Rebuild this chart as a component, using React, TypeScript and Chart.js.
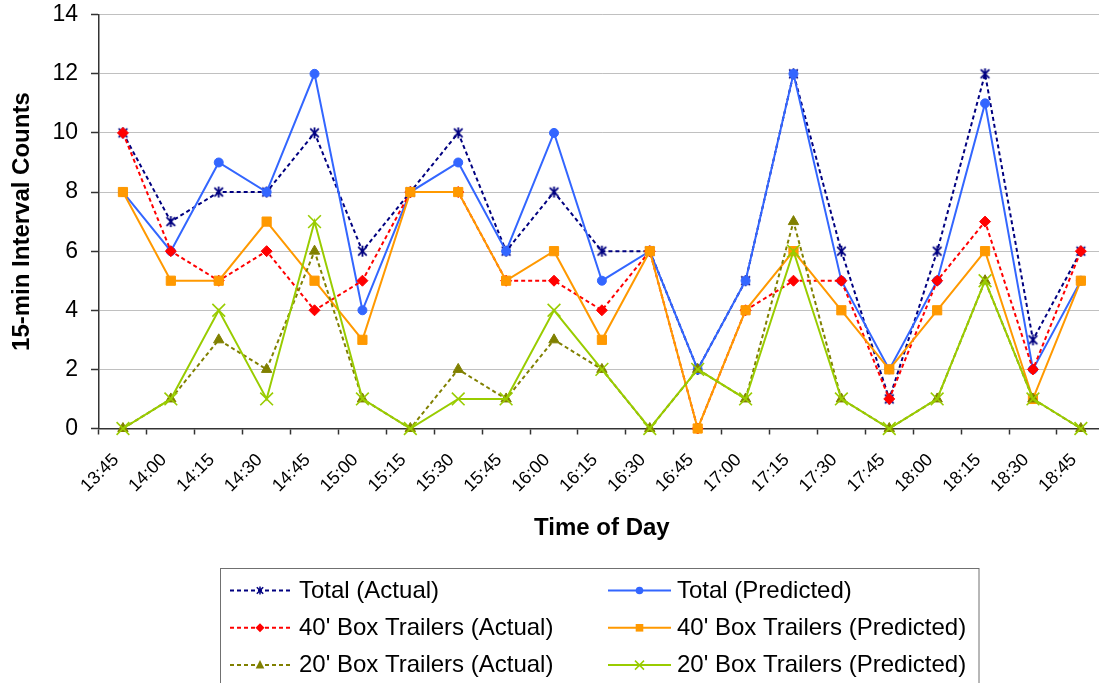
import React, { useEffect, useRef } from 'react';
import { Chart, registerables } from 'chart.js';

Chart.register(...registerables);

// ---- Data ----
const timeLabels = [
  '13:45', '14:00', '14:15', '14:30', '14:45', '15:00', '15:15', '15:30', '15:45', '16:00', '16:15',
  '16:30', '16:45', '17:00', '17:15', '17:30', '17:45', '18:00', '18:15', '18:30', '18:45',
];
const totalActual = [10, 7, 8, 8, 10, 6, 8, 10, 6, 8, 6, 6, 2, 5, 12, 6, 1, 6, 12, 3, 6];
const totalPredicted = [8, 6, 9, 8, 12, 4, 8, 9, 6, 10, 5, 6, 2, 5, 12, 5, 2, 5, 11, 2, 5];
const box40Actual = [10, 6, 5, 6, 4, 5, 8, 8, 5, 5, 4, 6, 0, 4, 5, 5, 1, 5, 7, 2, 6];
const box40Predicted = [8, 5, 5, 7, 5, 3, 8, 8, 5, 6, 3, 6, 0, 4, 6, 4, 2, 4, 6, 1, 5];
const box20Actual = [0, 1, 3, 2, 6, 1, 0, 2, 1, 3, 2, 0, 2, 1, 7, 1, 0, 1, 5, 1, 0];
const box20Predicted = [0, 1, 4, 1, 7, 1, 0, 1, 1, 4, 2, 0, 2, 1, 6, 1, 0, 1, 5, 1, 0];
const seriesLabels = [
  'Total (Actual)',
  'Total (Predicted)',
  "40' Box Trailers (Actual)",
  "40' Box Trailers (Predicted)",
  "20' Box Trailers (Actual)",
  "20' Box Trailers (Predicted)",
];
const yMin = 0;
const yMax = 14;
const yStep = 2;
const xTitle = 'Time of Day';
const yTitle = '15-min Interval Counts';

// ---- Styles ----
type Marker = 'asterisk' | 'circle' | 'diamond' | 'square' | 'triangle' | 'x';
const seriesStyles: { color: string; dash: number[]; marker: Marker; radius: number }[] = [
  { color: '#000080', dash: [4, 3], marker: 'asterisk', radius: 6 },
  { color: '#3366FF', dash: [], marker: 'circle', radius: 4.5 },
  { color: '#FF0000', dash: [4, 3], marker: 'diamond', radius: 5.5 },
  { color: '#FF9900', dash: [], marker: 'square', radius: 6.5 },
  { color: '#808000', dash: [4, 3], marker: 'triangle', radius: 6 },
  { color: '#99CC00', dash: [], marker: 'x', radius: 9 },
];

const FONT = '"Liberation Sans", Arial, Helvetica, sans-serif';

function makeAsterisk(color: string, size: number, lw: number): HTMLCanvasElement {
  const c = document.createElement('canvas');
  c.width = size;
  c.height = size;
  const g = c.getContext('2d')!;
  g.strokeStyle = color;
  g.lineWidth = lw;
  const m = size / 2;
  const r = size / 2 - 1;
  const d = r * 0.78;
  g.beginPath();
  g.moveTo(m - d, m - d);
  g.lineTo(m + d, m + d);
  g.moveTo(m + d, m - d);
  g.lineTo(m - d, m + d);
  g.moveTo(m, m - r);
  g.lineTo(m, m + r);
  g.stroke();
  return c;
}

function drawLegendMarker(ctx: CanvasRenderingContext2D, marker: Marker, x: number, y: number, color: string) {
  ctx.save();
  ctx.fillStyle = color;
  ctx.strokeStyle = color;
  ctx.setLineDash([]);
  ctx.lineWidth = 1.5;
  ctx.beginPath();
  switch (marker) {
    case 'asterisk': {
      const r = 4;
      const d = 3.2;
      ctx.moveTo(x - d, y - d);
      ctx.lineTo(x + d, y + d);
      ctx.moveTo(x + d, y - d);
      ctx.lineTo(x - d, y + d);
      ctx.moveTo(x, y - r);
      ctx.lineTo(x, y + r);
      ctx.stroke();
      break;
    }
    case 'circle':
      ctx.arc(x, y, 3.8, 0, Math.PI * 2);
      ctx.fill();
      break;
    case 'diamond':
      ctx.moveTo(x, y - 4.5);
      ctx.lineTo(x + 4.5, y);
      ctx.lineTo(x, y + 4.5);
      ctx.lineTo(x - 4.5, y);
      ctx.closePath();
      ctx.fill();
      break;
    case 'square':
      ctx.rect(x - 3.8, y - 3.8, 7.6, 7.6);
      ctx.fill();
      break;
    case 'triangle':
      ctx.moveTo(x, y - 5);
      ctx.lineTo(x + 4.3, y + 3.5);
      ctx.lineTo(x - 4.3, y + 3.5);
      ctx.closePath();
      ctx.fill();
      break;
    case 'x':
      ctx.moveTo(x - 4.5, y - 4.5);
      ctx.lineTo(x + 4.5, y + 4.5);
      ctx.moveTo(x + 4.5, y - 4.5);
      ctx.lineTo(x - 4.5, y + 4.5);
      ctx.stroke();
      break;
  }
  ctx.restore();
}

const legendPlugin = {
  id: 'boxLegend',
  afterDraw(chart: any) {
    const ctx: CanvasRenderingContext2D = chart.ctx;
    ctx.save();
    ctx.strokeStyle = '#707070';
    ctx.lineWidth = 1;
    ctx.strokeRect(220.5, 568.5, 758.5, 140);
    chart.data.datasets.forEach((ds: any, i: number) => {
      const st = seriesStyles[i];
      const col = i % 2;
      const row = Math.floor(i / 2);
      const ly = 590.5 + row * 37.3;
      const by = 598.3 + row * 37;
      const x0 = col ? 608 : 230;
      const x1 = col ? 671 : 290;
      const mx = col ? 639.5 : 260;
      const tx = col ? 677 : 299;
      ctx.save();
      ctx.strokeStyle = st.color;
      ctx.lineWidth = 2;
      ctx.setLineDash(st.dash);
      ctx.beginPath();
      ctx.moveTo(x0, ly);
      ctx.lineTo(x1, ly);
      ctx.stroke();
      ctx.restore();
      drawLegendMarker(ctx, st.marker, mx, ly, st.color);
      ctx.fillStyle = '#000';
      ctx.font = `24px ${FONT}`;
      ctx.textAlign = 'left';
      ctx.textBaseline = 'alphabetic';
      ctx.fillText(ds.label, tx, by);
    });
    ctx.restore();
  },
};

export default function App() {
  const canvasRef = useRef<HTMLCanvasElement | null>(null);

  useEffect(() => {
    if (!canvasRef.current) return;
    Chart.defaults.font.family = FONT;
    const seriesData = [totalActual, totalPredicted, box40Actual, box40Predicted, box20Actual, box20Predicted];
    const pointStyleFor = (m: Marker): any => {
      switch (m) {
        case 'asterisk':
          return makeAsterisk('#000080', 13, 1.8);
        case 'circle':
          return 'circle';
        case 'diamond':
          return 'rectRot';
        case 'square':
          return 'rect';
        case 'triangle':
          return 'triangle';
        case 'x':
          return 'crossRot';
      }
    };
    const datasets = seriesData.map((d, i) => {
      const st = seriesStyles[i];
      return {
        label: seriesLabels[i],
        data: d,
        borderColor: st.color,
        backgroundColor: st.color,
        borderWidth: 2,
        borderDash: st.dash,
        tension: 0,
        pointStyle: pointStyleFor(st.marker),
        pointRadius: st.radius,
        pointHoverRadius: st.radius,
        pointBackgroundColor: st.color,
        pointBorderColor: st.color,
        pointBorderWidth: st.marker === 'x' ? 1.6 : 1,
        clip: false as any,
        order: 6 - i,
      };
    });

    const chart = new Chart(canvasRef.current, {
      type: 'line',
      data: { labels: timeLabels, datasets },
      options: {
        responsive: false,
        animation: false,
        devicePixelRatio: 1,
        layout: { padding: { left: 0, top: 14.7, right: 20.2, bottom: 140.6 } },
        plugins: {
          legend: { display: false },
          tooltip: { enabled: false },
        },
        scales: {
          x: {
            type: 'category',
            offset: true,
            grid: {
              offset: true,
              drawOnChartArea: false,
              drawTicks: true,
              tickLength: 6,
              tickColor: '#333333',
              tickWidth: 1.5,
            },
            border: { color: '#333333', width: 1.5 },
            ticks: {
              autoSkip: false,
              maxRotation: 45,
              minRotation: 45,
              padding: 15,
              labelOffset: -7,
              color: '#000',
              font: { size: 18 },
            },
            title: {
              display: true,
              text: xTitle,
              color: '#000',
              font: { size: 24, weight: 'bold' },
              padding: { top: 0, bottom: 0 },
            },
            afterFit: (s: any) => {
              s.height = 113.9;
            },
          },
          y: {
            min: yMin,
            max: yMax,
            ticks: { stepSize: yStep, padding: 13, color: '#000', font: { size: 23 } },
            grid: {
              color: '#C0C0C0',
              lineWidth: 1,
              tickLength: 8,
              tickColor: '#333333',
              tickWidth: 1.5,
            },
            border: { color: '#333333', width: 1.5 },
            title: {
              display: true,
              text: yTitle,
              color: '#000',
              font: { size: 24, weight: 'bold' },
              padding: { top: 8, bottom: 0 },
            },
            afterFit: (s: any) => {
              s.width = 99;
              s.paddingTop = 0;
              s.paddingBottom = 0;
            },
          },
        },
      } as any,
      plugins: [legendPlugin],
    });
    return () => chart.destroy();
  }, []);

  return (
    <div
      style={{
        position: 'absolute',
        left: 0,
        top: 0,
        width: 1099,
        height: 683,
        overflow: 'hidden',
        background: '#fff',
      }}
    >
      <canvas ref={canvasRef} width={1125} height={683} style={{ display: 'block', width: 1125, height: 683 }} />
    </div>
  );
}
